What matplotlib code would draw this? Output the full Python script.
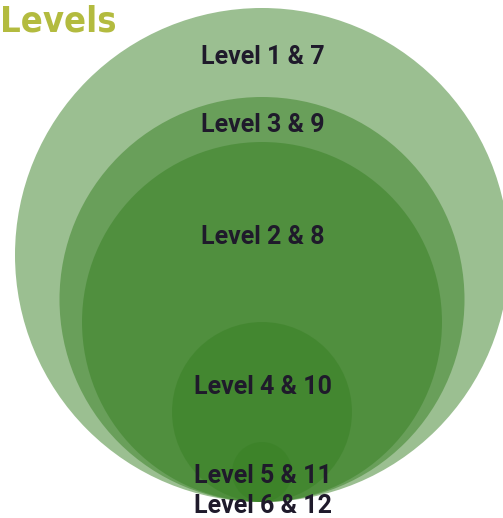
import matplotlib
matplotlib.use("Agg")
import matplotlib.pyplot as plt
from matplotlib.patches import Circle

# Data
labels = ["Level 1 & 7", "Level 3 & 9", "Level 2 & 8", "Level 4 & 10", "Level 5 & 11", "Level 6 & 12"]
radii = [247, 202.5, 180, 90, 30, 0]

# Layout (pixel coordinates)
W, H = 503, 518
cx = 262
bottom = 502
label_baselines = [64, 132, 244, 394, 483, 513]

fig = plt.figure(figsize=(W / 100, H / 100), dpi=100)
ax = fig.add_axes([0, 0, 1, 1])
ax.set_xlim(0, W)
ax.set_ylim(H, 0)
ax.set_aspect("auto")
ax.axis("off")

for r in radii:
    if r > 0:
        ax.add_patch(Circle((cx, bottom - r), r, facecolor="#388024", alpha=0.5,
                            edgecolor="none", zorder=1))

for lab, yb in zip(labels, label_baselines):
    ax.text(263, yb, lab, ha="center", va="baseline", fontsize=18,
            family=["Roboto", "DejaVu Sans"], fontweight="bold",
            color="#1f1a2b", zorder=3)

ax.text(0, 32, "Levels", ha="left", va="baseline", fontsize=26,
        family="DejaVu Sans", fontstretch="condensed", fontweight="bold",
        color="#b3bb3f", zorder=3)

fig.savefig("out.png", dpi=100)
